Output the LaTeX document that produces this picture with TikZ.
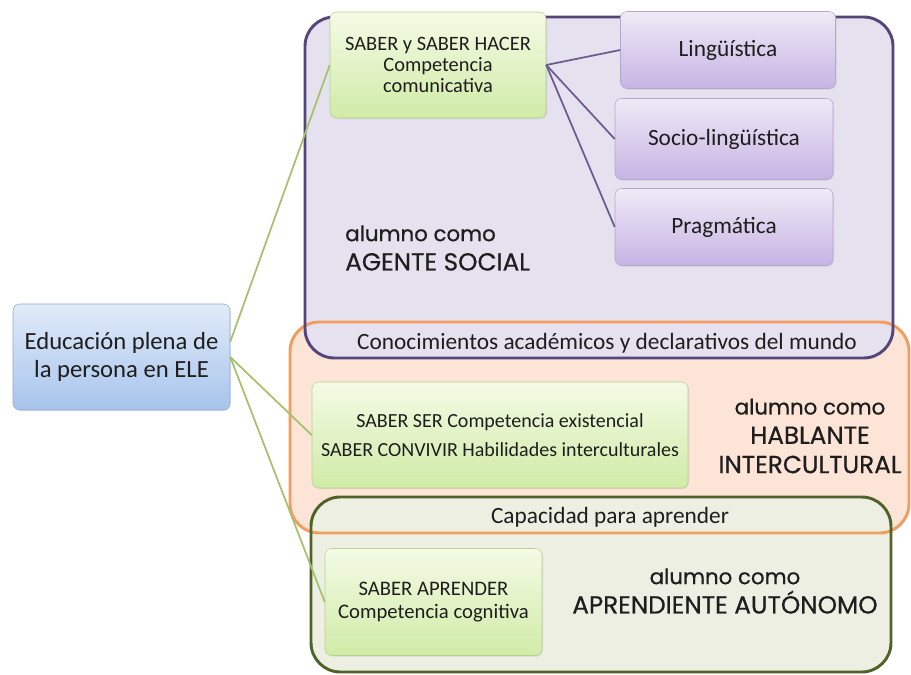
\documentclass[tikz,border=0pt]{standalone}
\usepackage{fontspec}
\setmainfont{Carlito}
\newfontfamily\gothic[FakeBold=0.6]{Poppins}
\usetikzlibrary{shadows}

\definecolor{blueTop}{HTML}{E1EBF9}
\definecolor{blueBot}{HTML}{A7C4EC}
\definecolor{blueLine}{HTML}{90AAD4}
\definecolor{greenTop}{HTML}{F4FBE6}
\definecolor{greenBot}{HTML}{D0EBA6}
\definecolor{greenLine}{HTML}{B9D095}
\definecolor{lilaTop}{HTML}{EFEAF6}
\definecolor{lilaBot}{HTML}{C6B4E4}
\definecolor{lilaLine}{HTML}{B4A7CC}
\definecolor{purpleFill}{HTML}{E6E1EE}
\definecolor{purpleLine}{HTML}{54457A}
\definecolor{orangeFill}{HTML}{FCE5D7}
\definecolor{orangeLine}{HTML}{F39C60}
\definecolor{oliveFill}{HTML}{EDEFE3}
\definecolor{oliveLine}{HTML}{4F6228}
\definecolor{linkGreen}{HTML}{A5C26B}
\definecolor{linkPurple}{HTML}{6B5B91}
\definecolor{ink}{HTML}{1E1E1E}

% smaller first line of the big labels
\newcommand\asword{\fontsize{16}{22}\selectfont}

\tikzset{
  sized/.style 2 args={minimum width=#1*0.75pt, minimum height=#2*0.75pt},
  card/.style={rectangle, rounded corners=5pt, align=center, inner sep=2pt, text=ink,
    drop shadow={opacity=0.18, shadow xshift=0.8pt, shadow yshift=-0.8pt}},
  bluecard/.style={card, top color=blueTop, bottom color=blueBot, draw=blueLine},
  greencard/.style={card, top color=greenTop, bottom color=greenBot, draw=greenLine},
  lilacard/.style={card, top color=lilaTop, bottom color=lilaBot, draw=lilaLine,
    font=\fontsize{17.5}{21}\selectfont},
  zone/.style={rounded corners=22pt, line width=2.2pt},
  biglabel/.style={font=\gothic\fontsize{18.5}{22}\selectfont, inner sep=0pt, text=ink},
  bandlabel/.style={font=\fontsize{17.5}{21}\selectfont, inner sep=0pt, text=ink},
  link/.style={line width=1.3pt},
}

\begin{document}
\begin{tikzpicture}[x=0.75pt, y=-0.75pt]
  \useasboundingbox (0,0) rectangle (911,675);

  % zones
  \fill[orangeFill, zone] (290,322) rectangle (909,533);
  \fill[purpleFill, zone] (305,17) rectangle (893,358);
  \fill[oliveFill, zone] (311,497) rectangle (891,672);
  \draw[orangeLine, zone] (290,322) rectangle (909,533);
  \draw[purpleLine, zone] (305,17) rectangle (893,358);
  \draw[oliveLine, zone] (311,497) rectangle (891,672);

  % boxes
  \node[bluecard, sized={217}{106}, font=\fontsize{18.5}{20.5}\selectfont] (edu) at (121.5,357)
    {Educación plena de\\la persona en ELE};
  \node[greencard, sized={216}{106}, font=\fontsize{15.3}{16}\selectfont] (hacer) at (438,65)
    {SABER y SABER HACER\\Competencia\\comunicativa};
  \node[lilacard, sized={215}{77}] (ling) at (728,50) {Lingüística};
  \node[lilacard, sized={218}{81}] (socio) at (724,139) {Socio-lingüística};
  \node[lilacard, sized={218}{77}] (prag) at (724,227) {Pragmática};
  \node[greencard, sized={376}{106}, font=\fontsize{15}{22}\selectfont] (ser) at (500,435)
    {SABER SER Competencia existencial\\SABER CONVIVIR Habilidades interculturales};
  \node[greencard, sized={217}{107}, font=\fontsize{15.5}{17.5}\selectfont] (aprender) at (433.5,602)
    {SABER APRENDER\\Competencia cognitiva};

  % labels
  \node[biglabel, align=left, anchor=west] (agente) at (345,248) {\asword alumno como\\AGENTE SOCIAL};
  \node[bandlabel] (conoc) at (607,343) {Conocimientos académicos y declarativos del mundo};
  \node[biglabel, align=center] (hablante) at (810,436) {\asword alumno como\\HABLANTE\\INTERCULTURAL};
  \node[bandlabel] (capac) at (610,517) {Capacidad para aprender};
  \node[biglabel, align=center] (autonomo) at (725,591) {\asword alumno como\\APRENDIENTE AUTÓNOMO};

  % links
  \draw[linkGreen, link] (edu.8) -- (hacer.west);
  \draw[linkGreen, link] (edu.east) -- (ser.west);
  \draw[linkGreen, link] (edu.east) -- (aprender.west);
  \draw[linkPurple, link] (hacer.east) -- (ling.west);
  \draw[linkPurple, link] (hacer.east) -- (socio.west);
  \draw[linkPurple, link] (hacer.east) -- (prag.west);
\end{tikzpicture}
\end{document}
